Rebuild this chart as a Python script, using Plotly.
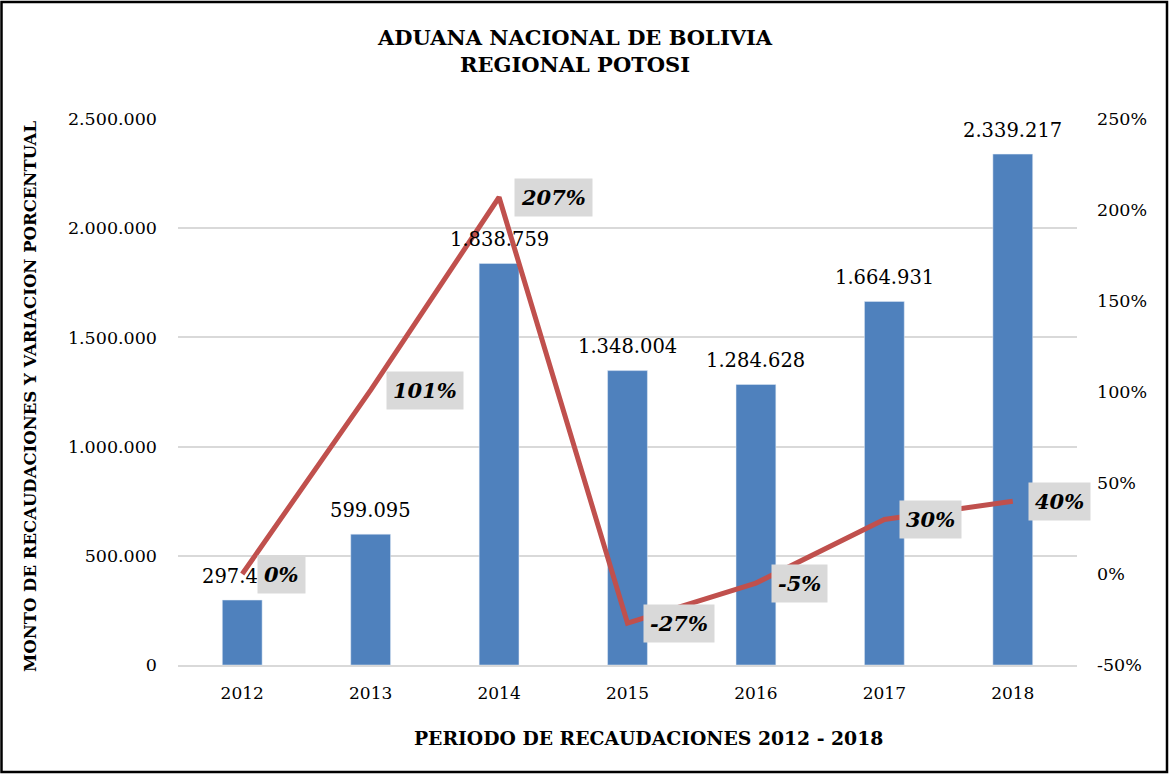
import plotly.graph_objects as go

years = ["2012", "2013", "2014", "2015", "2016", "2017", "2018"]
recaudacion = [297430, 599095, 1838759, 1348004, 1284628, 1664931, 2339217]
recaudacion_labels = ["297.430", "599.095", "1.838.759", "1.348.004", "1.284.628", "1.664.931", "2.339.217"]
variacion = [0.00, 1.01, 2.07, -0.27, -0.05, 0.30, 0.40]
variacion_labels = ["0%", "101%", "207%", "-27%", "-5%", "30%", "40%"]
pct_ticks = [-0.5, 0.0, 0.5, 1.0, 1.5, 2.0, 2.5]
pct_tick_labels = ["-50%", "0%", "50%", "100%", "150%", "200%", "250%"]

FONT = "DejaVu Serif"
BAR_COLOR = "#4F81BD"
LINE_COLOR = "#C0504D"

W, H = 1169, 774
L, R, T, B = 178, 92, 119, 109
PW, PH = W - L - R, H - T - B


def px_x(px):
    return (px - L) / PW


def px_y(py):
    return (H - B - py) / PH


fig = go.Figure()
fig.add_trace(go.Bar(
    x=years, y=recaudacion, marker_color=BAR_COLOR, width=0.31,
    name="Recaudación", showlegend=False,
))
fig.add_trace(go.Scatter(
    x=years, y=variacion, yaxis="y2", mode="lines",
    line=dict(color=LINE_COLOR, width=5), showlegend=False, name="Variación",
))

# bar value labels (drawn first so the percentage boxes sit on top)
for i, (v, lab) in enumerate(zip(recaudacion, recaudacion_labels)):
    fig.add_annotation(
        x=i, y=v, xref="x", yref="y", text=lab, showarrow=False,
        xanchor="center", yanchor="middle", yshift=24,
        font=dict(family=FONT, size=19.5, color="#000"),
    )

for i, (v, lab) in enumerate(zip(variacion, variacion_labels)):
    fig.add_annotation(
        x=i, y=v, xref="x", yref="y2", text=f"<b><i>{lab}</i></b>",
        showarrow=False, xanchor="left", yanchor="middle", xshift=15,
        bgcolor="#D9D9D9", borderpad=6,
        font=dict(family=FONT, size=21, color="#000"),
    )

fig.add_annotation(
    x=px_x(575), y=px_y(51), xref="paper", yref="paper",
    text="<b>ADUANA NACIONAL DE BOLIVIA<br>REGIONAL POTOSI</b>",
    showarrow=False, font=dict(family=FONT, size=21, color="#000"),
    xanchor="center", yanchor="middle",
)
fig.add_annotation(
    x=px_x(30), y=px_y(397), xref="paper", yref="paper",
    text="<b>MONTO DE RECAUDACIONES Y VARIACION PORCENTUAL</b>",
    textangle=-90, showarrow=False, font=dict(family=FONT, size=16.5, color="#000"),
    xanchor="center", yanchor="middle",
)
fig.add_annotation(
    x=px_x(648), y=px_y(738), xref="paper", yref="paper",
    text="<b>PERIODO DE RECAUDACIONES 2012 - 2018</b>",
    showarrow=False, font=dict(family=FONT, size=18.8, color="#000"),
    xanchor="center", yanchor="middle",
)

fig.add_shape(
    type="rect", xref="paper", yref="paper",
    x0=px_x(1.5), x1=px_x(1167), y0=px_y(772), y1=px_y(2),
    line=dict(color="#000", width=2.5), layer="above",
)

fig.update_layout(
    width=W, height=H, margin=dict(l=L, r=R, t=T, b=B),
    paper_bgcolor="white", plot_bgcolor="white",
    separators=",.",
    xaxis=dict(
        type="category", range=[-0.5, 6.5], showgrid=False, showline=True,
        linecolor="#D9D9D9", linewidth=2, ticks="", ticklabelstandoff=12,
        tickfont=dict(family=FONT, size=17, color="#000"),
    ),
    yaxis=dict(
        range=[0, 2500000], dtick=500000, tickformat=",.0f",
        showgrid=True, gridcolor="#D9D9D9", gridwidth=1.5, zeroline=False,
        ticks="", ticklabelstandoff=20,
        tickfont=dict(family=FONT, size=17.5, color="#000"),
    ),
    yaxis2=dict(
        overlaying="y", side="right", range=[-0.5, 2.5],
        tickmode="array", tickvals=pct_ticks, ticktext=pct_tick_labels,
        showgrid=False, zeroline=False, ticks="", ticklabelstandoff=19,
        tickfont=dict(family=FONT, size=17.5, color="#000"),
    ),
)

fig.write_html(
    "out.html",
    config={"displayModeBar": False},
    post_script="document.body.style.margin='0';document.body.style.overflow='hidden';",
)
